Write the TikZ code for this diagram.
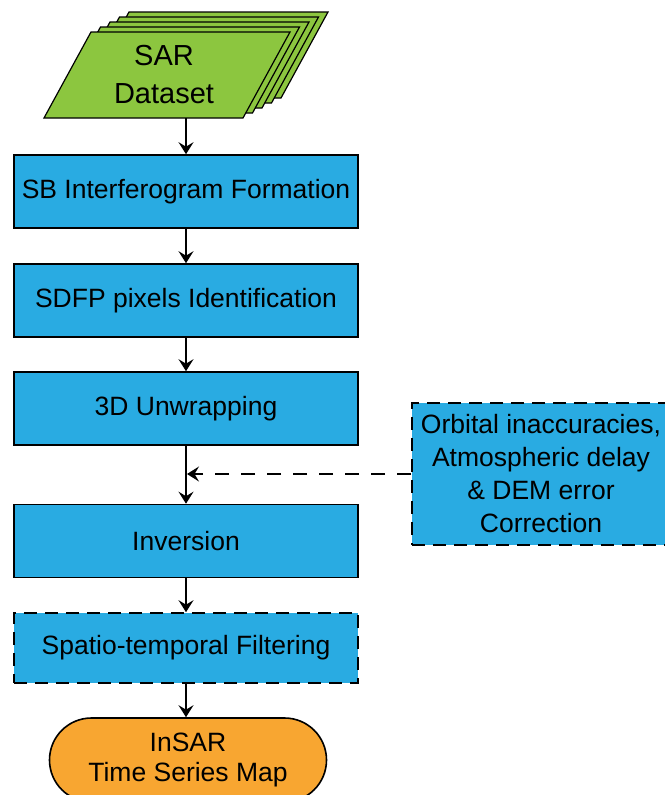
\documentclass[tikz,border=0pt]{standalone}
\usepackage{fontspec}
\setmainfont{Liberation Sans}
\usetikzlibrary{arrows.meta,positioning,shapes.misc}
\definecolor{leaf}{HTML}{8CC63F}
\definecolor{sky}{HTML}{29ABE2}
\definecolor{amber}{HTML}{F8A631}
\tikzset{
  procbox/.style={draw=black, line width=1.6pt, fill=sky, minimum width=344pt,
    minimum height=73pt, inner sep=0pt, font=\fontsize{26.5}{33}\selectfont},
  optbox/.style={procbox, dash pattern=on 13pt off 8pt},
  flow/.style={line width=1.6pt, -{Stealth[length=12pt,width=15pt,inset=4.5pt]}},
}

\begin{document}
\begin{tikzpicture}[x=1pt,y=-1pt]
  \useasboundingbox (0,0) rectangle (664,795);

  % SAR data stack
  \foreach \i in {4,3,2,1,0}
    \draw[fill=leaf, line width=1.2pt, shift={({9.5*\i},{-5*\i})}]
      (44,118) -- (243,118) -- (290,32) -- (91,32) -- cycle;
  \node[font=\fontsize{29}{38}\selectfont, align=center] (sar) at (164,75) {SAR\\Dataset};
  \coordinate (sarfoot) at (186,118);

  % Processing chain
  \node[procbox] (sb) at (186,191.5) {SB Interferogram Formation};
  \node[procbox] (sdfp) at (186,300.5) {SDFP pixels Identification};
  \node[procbox] (unwrap) at (186,408.5) {3D Unwrapping};
  \node[procbox] (inv) at (186,541) {Inversion};
  \node[optbox, minimum height=70pt] (filt) at (186,648) {Spatio-temporal Filtering};
  \node[draw, line width=1.6pt, fill=amber, rounded rectangle, minimum width=277pt,
    minimum height=84pt, inner sep=0pt, align=center,
    font=\fontsize{26.5}{30}\selectfont] (map) at (188,760) {InSAR\\Time Series Map};

  % Correction input
  \node[optbox, minimum width=258pt, minimum height=142pt, align=center] (corr) at (541,474)
    {Orbital inaccuracies,\\Atmospheric delay\\\& DEM error\\Correction};

  % Arrows
  \draw[flow] (sarfoot) -- (sb);
  \draw[flow] (sb) -- (sdfp);
  \draw[flow] (sdfp) -- (unwrap);
  \draw[flow] (unwrap) -- (inv);
  \draw[flow, dash pattern=on 14pt off 12pt] (corr.west) -- ([xshift=1pt]corr.west -| unwrap.south);
  \draw[flow] (inv) -- (filt);
  \draw[flow] (filt) -- (filt.south |- map.north);
\end{tikzpicture}
\end{document}
